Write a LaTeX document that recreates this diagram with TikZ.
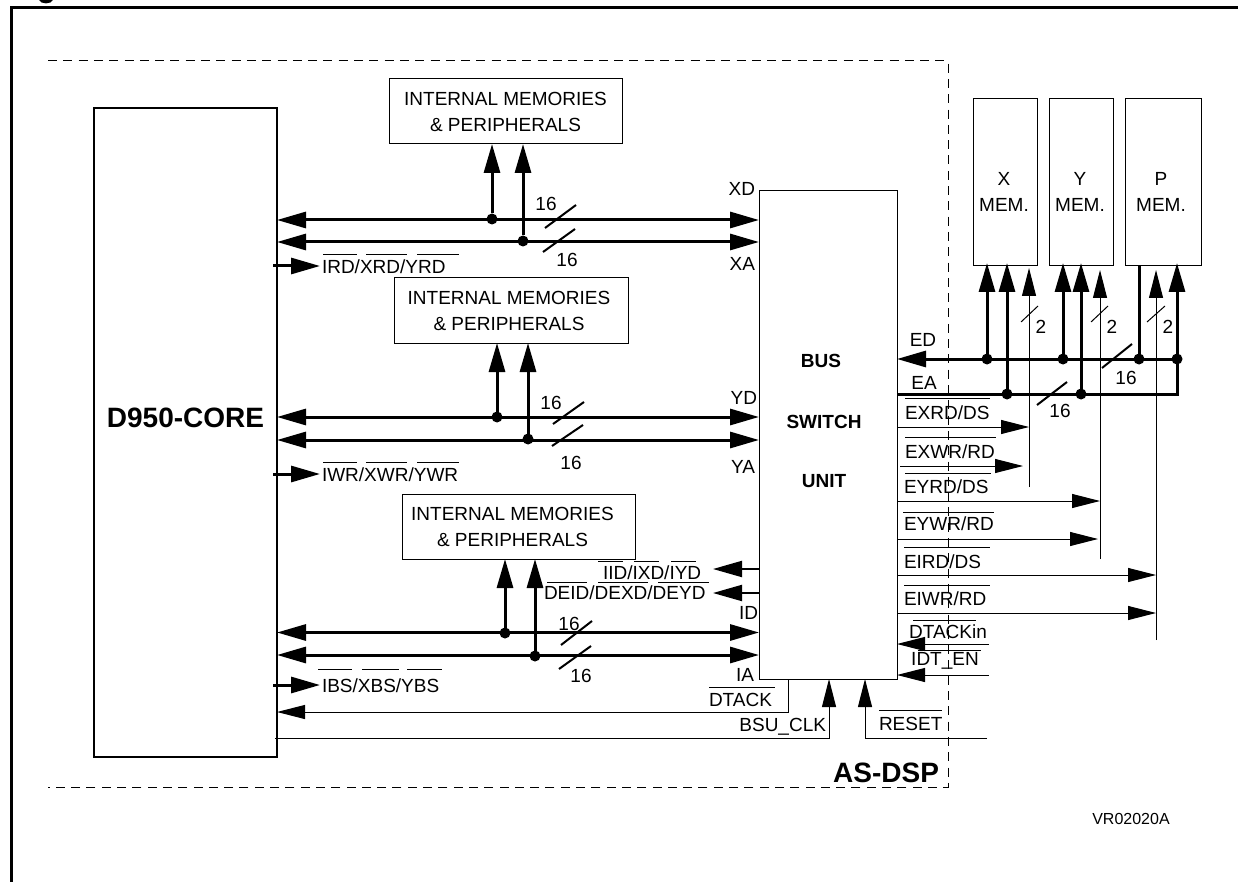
\documentclass[tikz,border=0pt]{standalone}
\usepackage{fontspec}
\setmainfont{Liberation Sans}
\usetikzlibrary{arrows.meta,calc}
\tikzset{
  x=1pt,y=-1pt,
  txt/.style={font=\fontsize{19}{26}\selectfont,inner sep=0pt,outer sep=0pt,align=center},
  lab/.style={txt,anchor=west},
  bold/.style={txt,font=\fontsize{19}{26}\selectfont\bfseries},
  bigbold/.style={txt,font=\fontsize{28}{30}\selectfont\bfseries},
  boxn/.style={draw=black,line width=1pt,inner sep=0pt,outer sep=0pt,txt},
  frameline/.style={line width=3pt},
  dashline/.style={line width=1pt,dash pattern=on 9pt off 6.3pt},
  bus/.style={line width=3pt},
  thin1/.style={line width=1pt},
  ovb/.style={line width=1pt},
  slash/.style={line width=2pt},
  slashthin/.style={line width=1pt},
  dotn/.style={circle,fill=black,minimum size=11pt,inner sep=0pt,outer sep=0pt},
  ah/.style={-{Triangle[length=29pt,width=16pt]}},
  ha/.style={{Triangle[length=29pt,width=16pt]}-},
  hah/.style={{Triangle[length=29pt,width=16pt]}-{Triangle[length=29pt,width=16pt]}},
  ahs/.style={-{Triangle[length=28pt,width=14pt]}},
  has/.style={{Triangle[length=28pt,width=14pt]}-},
  intop/.style={shorten >=-3pt},
}
\newcommand{\MemText}[1]{INTERNAL MEMORIES\hspace*{#1pt}\\\& PERIPHERALS\hspace*{#1pt}}
\begin{document}
\begin{tikzpicture}
\useasboundingbox (0,0) rectangle (1238,882);
% clipped fragment at the top edge
\fill (39,0) .. controls (41,4.5) and (51,4.5) .. (53,0) -- cycle;
% frame & dashed boundary
\draw[frameline] (11.5,882) -- (11.5,8) -- (1238,8);
\draw[dashline] (48,61) -- (948,61) -- (948,787) -- (48,787);
% blocks
\node[boxn,line width=2.5pt,minimum width=183pt,minimum height=649pt,bigbold] (core) at (185.5,432.5) {};
\node[bigbold] (corelab) at (185.5,418) {D950-CORE};
\node[boxn,minimum width=233pt,minimum height=65pt] (m1) at (505.5,111.5) {\MemText{0}};
\node[boxn,minimum width=234pt,minimum height=65pt] (m2) at (511,310.5) {\MemText{4}};
\node[boxn,minimum width=233pt,minimum height=65pt] (m3) at (518.5,526.5) {\MemText{12}};
\node[boxn,minimum width=138pt,minimum height=488pt] (bsu) at (828,435) {};
\node[bold] (bsu1) at (821,361) {BUS};
\node[bold] (bsu2) at (824,422) {SWITCH};
\node[bold] (bsu3) at (824,481) {UNIT};
\node[boxn,minimum width=64pt,minimum height=167pt] (xm) at (1005,182.5) {};
\node[boxn,minimum width=64pt,minimum height=167pt] (ym) at (1081,182.5) {};
\node[boxn,minimum width=76pt,minimum height=167pt] (pm) at (1163,182.5) {};
\node[txt] (xl) at (1004,192) {X\\MEM.};
\node[txt] (yl) at (1080,192) {Y\\MEM.};
\node[txt] (pl) at (1161,192) {P\\MEM.};
% core buses
\foreach \n/\y in {xd/220,xa/242,yd/417,ya/440,id/632.5,ia/655}{
  \draw[bus,hah] (core.east |- 0,\y) -- (bsu.west |- 0,\y);
}
% dots and tap arrows to internal memories
\node[dotn] (d1) at (492,219) {};
\node[dotn] (d2) at (523,241) {};
\node[dotn] (d3) at (497,417) {};
\node[dotn] (d4) at (528,439) {};
\node[dotn] (d5) at (505,633) {};
\node[dotn] (d6) at (535,656) {};
\draw[bus,ah] (d1) -- (d1 |- m1.south);
\draw[bus,ah] (d2) -- (d2 |- m1.south);
\draw[bus,ah] (d3) -- (d3 |- m2.south);
\draw[bus,ah] (d4) -- (d4 |- m2.south);
\draw[bus,ah] (d5) -- (d5 |- m3.south);
\draw[bus,ah] (d6) -- (d6 |- m3.south);
% slashes with 16
\draw[slash] (545,228) -- (576,205);
\draw[slash] (543,252) -- (575,229);
\draw[slash] (553,424) -- (584,402);
\draw[slash] (552,446) -- (583,425);
\draw[slash] (561,645) -- (592,621);
\draw[slash] (559,669) -- (591,646);
\node[txt] at (546,204) {16};
\node[txt] at (567,260) {16};
\node[txt] at (551,403) {16};
\node[txt] at (571,463) {16};
\node[txt] at (569,624) {16};
\node[txt] at (581,676) {16};
% core outputs
\draw[bus,ah] (273,266) -- (320,266);
\node[lab] (l1) at (322,267) {IRD/XRD/YRD};
\draw[ovb] (323,255) -- (357,255) (366,255) -- (407,255) (417,255) -- (459,255);
\draw[bus,ah] (273,474) -- (320,474);
\node[lab] (l2) at (322,475) {IWR/XWR/YWR};
\draw[ovb] (323,462) -- (357,462) (366,462) -- (407,462) (417,462) -- (459,462);
\draw[bus,ah] (273,685) -- (320,685);
\node[lab] (l3) at (322,686) {IBS/XBS/YBS};
\draw[ovb] (318,669) -- (352,669) (362,669) -- (399,669) (407,669) -- (442,669);
% bus labels
\node[txt,anchor=east] at (755,189) {XD};
\node[txt,anchor=east] at (755,264) {XA};
\node[txt,anchor=east] at (757,398) {YD};
\node[txt,anchor=east] at (755,467) {YA};
\node[txt,anchor=east] at (758,613) {ID};
\node[txt,anchor=east] at (754,675) {IA};
% DE / IID
\node[lab] (iid) at (603,573) {IID/IXD/IYD};
\node[lab] (deid) at (544,593) {DEID/DEXD/DEYD};
\draw[ovb] (598,561) -- (623,561) (634,561) -- (659,561) (671,561) -- (696,561);
\draw[ovb] (547,582) -- (587,582) (598,582) -- (648,582) (658,582) -- (709,582);
\draw[line width=2pt,ha] (713,569) -- (bsu.west |- 0,569);
\draw[line width=2pt,ha] (713,593) -- (bsu.west |- 0,593);
% DTACK, BSU_CLK, RESET
\coordinate (dt) at (788,712);
\draw[thin1,has] (core.east |- dt) -- (dt) -- (dt |- bsu.south);
\node[lab] at (709,700) {DTACK};
\draw[ovb] (709,687) -- (775,687);
\coordinate (clk) at (829,738);
\draw[thin1,ahs] (275,738) -- (clk) -- (clk |- bsu.south);
\node[txt,anchor=east] at (826,727) {BSU\_CLK};
\coordinate (rs) at (865,738);
\coordinate (rsend) at (987,738);
\draw[thin1,ahs] (rsend) -- (rs) -- (rs |- bsu.south);
\node[lab] at (879,723.5) {RESET};
\draw[ovb] (879,710) -- (942,710);
\node[bigbold,anchor=east] at (939,773) {AS-DSP};
\node[txt,font=\fontsize{16}{18}\selectfont] at (1131,819) {VR02020A};
% ED / EA
\coordinate (ea) at (1177,394);
\draw[bus,ha] (bsu.east |- 0,359) -- (1177,359);
\draw[bus,ah,intop] (bsu.east |- ea) -- (ea) -- (ea |- pm.south);
\node[dotn] (e1) at (987,359) {};
\node[dotn] (e2) at (1063,359) {};
\node[dotn] (e3) at (1139,359) {};
\node[dotn] (e4) at (1177,359) {};
\node[dotn] (a1) at (1007,394) {};
\node[dotn] (a2) at (1081,394) {};
\draw[bus,ah,intop] (e1) -- (e1 |- xm.south);
\draw[bus,ah,intop] (e2) -- (e2 |- ym.south);
\draw[bus,ah,intop] (a1) -- (a1 |- xm.south);
\draw[bus,ah,intop] (a2) -- (a2 |- ym.south);
\draw[bus] (e3) -- (e3 |- pm.south);
\draw[slash] (1102,368) -- (1132,344);
\draw[slash] (1037,405) -- (1067,382);
\node[txt] at (1126,378) {16};
\node[txt] at (1060,411) {16};
\node[txt] at (923,340) {ED};
\node[txt] at (924,383) {EA};
% thin control risers
\coordinate (xr) at (1029,487);
\coordinate (yr) at (1100,559);
\coordinate (pr) at (1156,640);
\draw[thin1,ahs] (xr) -- (xr |- 0,268);
\draw[thin1,ahs] (yr) -- (yr |- 0,270);
\draw[thin1,ahs] (pr) -- (pr |- 0,270);
\draw[slashthin] (1021,322) -- (1038,306);
\draw[slashthin] (1091,322) -- (1108,306);
\draw[slashthin] (1147,322) -- (1165,306);
\node[txt] at (1041,327) {2};
\node[txt] at (1112,327) {2};
\node[txt] at (1168,327) {2};
% external controls
\draw[thin1,ahs] (bsu.east |- 0,427) -- (xr |- 0,427);
\draw[thin1,ahs] (900,466) -- (1023,466);
\draw[thin1,ahs] (bsu.east |- 0,501) -- (yr |- 0,501);
\draw[thin1,ahs] (bsu.east |- 0,539) -- (1098,539);
\draw[thin1,ahs] (bsu.east |- 0,575) -- (pr |- 0,575);
\draw[thin1,ahs] (bsu.east |- 0,613) -- (pr |- 0,613);
\node[lab] at (905,413) {EXRD/DS};
\draw[ovb] (905,398) -- (990,398);
\node[lab] at (905,452) {EXWR/RD};
\draw[ovb] (905,437) -- (996,437);
\node[lab] at (904,487) {EYRD/DS};
\draw[ovb] (905,473) -- (991,473);
\node[lab] at (904,524) {EYWR/RD};
\draw[ovb] (903,512) -- (994,512);
\node[lab] at (904,562) {EIRD/DS};
\draw[ovb] (904,547) -- (990,547);
\node[lab] at (904,599) {EIWR/RD};
\draw[ovb] (904,585) -- (990,585);
\draw[thin1,has] (bsu.east |- 0,644) -- (989,644);
\draw[thin1,has] (bsu.east |- 0,675) -- (989,675);
\node[txt] at (948,632) {DTACKin};
\draw[ovb] (913,620) -- (976,620);
\node[txt] at (945,661) {IDT\_EN};
\draw[ovb] (918,650) -- (981,650);
\end{tikzpicture}
\end{document}
